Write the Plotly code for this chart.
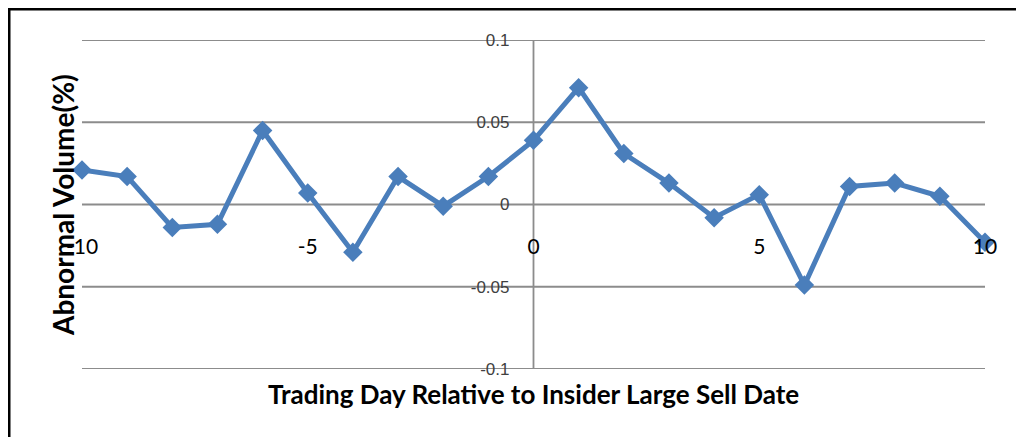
import plotly.graph_objects as go

days = list(range(-10, 11))
abnormal_volume = [0.021, 0.017, -0.014, -0.012, 0.045, 0.007, -0.029, 0.017, -0.001, 0.017,
                   0.039, 0.071, 0.031, 0.013, -0.008, 0.006, -0.049, 0.011, 0.013, 0.005, -0.023]
x_ticks = [-10, -5, 0, 5, 10]
x_tick_labels = ["-10", "-5", "0", "5", "10"]
y_ticks = [-0.1, -0.05, 0, 0.05, 0.1]
y_tick_labels = ["-0.1", "-0.05", "0", "0.05", "0.1"]

OFF = 8  # page body margin
W, H = 1024 - OFF, 437 - OFF
# plot area in window pixel coordinates
PX0, PX1, PY0, PY1 = 82, 985, 40, 369
L, R, T, B = PX0 - OFF, W - (PX1 - OFF), PY0 - OFF, H - (PY1 - OFF)
pw, ph = W - L - R, H - T - B

def px_x(p):
    return (p - OFF - L) / pw

def px_y(p):
    return (H - B - (p - OFF)) / ph

grid = "#8C8C8C"

fig = go.Figure()
fig.add_trace(go.Scatter(
    x=days, y=abnormal_volume, mode="lines+markers",
    line=dict(color="#4A7EBB", width=5),
    marker=dict(symbol="diamond", size=15, color="#4A7EBB"),
    cliponaxis=False, hoverinfo="x+y",
))

shapes = [dict(type="line", xref="paper", yref="y", x0=0, x1=1, y0=v, y1=v,
               line=dict(color=grid, width=1.8), layer="below") for v in y_ticks]
shapes.append(dict(type="line", xref="x", yref="y", x0=0, x1=0, y0=y_ticks[0], y1=y_ticks[-1],
                   line=dict(color=grid, width=1.8), layer="below"))
shapes.append(dict(type="rect", xref="paper", yref="paper",
                   x0=px_x(9), x1=px_x(1040), y0=px_y(460), y1=px_y(9),
                   line=dict(color="black", width=3)))

fig.update_layout(
    width=W, height=H,
    margin=dict(l=L, r=R, t=T, b=B),
    plot_bgcolor="white", paper_bgcolor="white",
    showlegend=False,
    xaxis=dict(range=[-10, 10], tickvals=x_ticks, ticktext=x_tick_labels,
               anchor="free", position=0.5,
               showgrid=False, zeroline=False, showline=False, ticks="",
               ticklabelstandoff=27,
               tickfont=dict(family="Lato", size=21, color="black")),
    yaxis=dict(range=[-0.1, 0.1], tickvals=y_ticks, ticktext=y_tick_labels,
               anchor="free", position=0.5,
               showgrid=False, showline=False,
               zeroline=False, ticks="", ticklabelstandoff=24,
               tickfont=dict(family="Liberation Sans", size=17, color="#404040")),
    annotations=[
        dict(text="<b>Abnormal Volume(%)</b>", xref="paper", yref="paper",
             x=px_x(63), y=px_y(205), textangle=-90, showarrow=False,
             xanchor="center", yanchor="middle",
             font=dict(family="Lato", size=28, color="black")),
        dict(text="<b>Trading Day Relative to Insider Large Sell Date</b>", xref="paper", yref="paper",
             x=px_x(533), y=px_y(394), showarrow=False,
             xanchor="center", yanchor="middle",
             font=dict(family="Lato", size=26, color="black")),
    ],
    shapes=shapes,
)

fig.write_html("out.html")
